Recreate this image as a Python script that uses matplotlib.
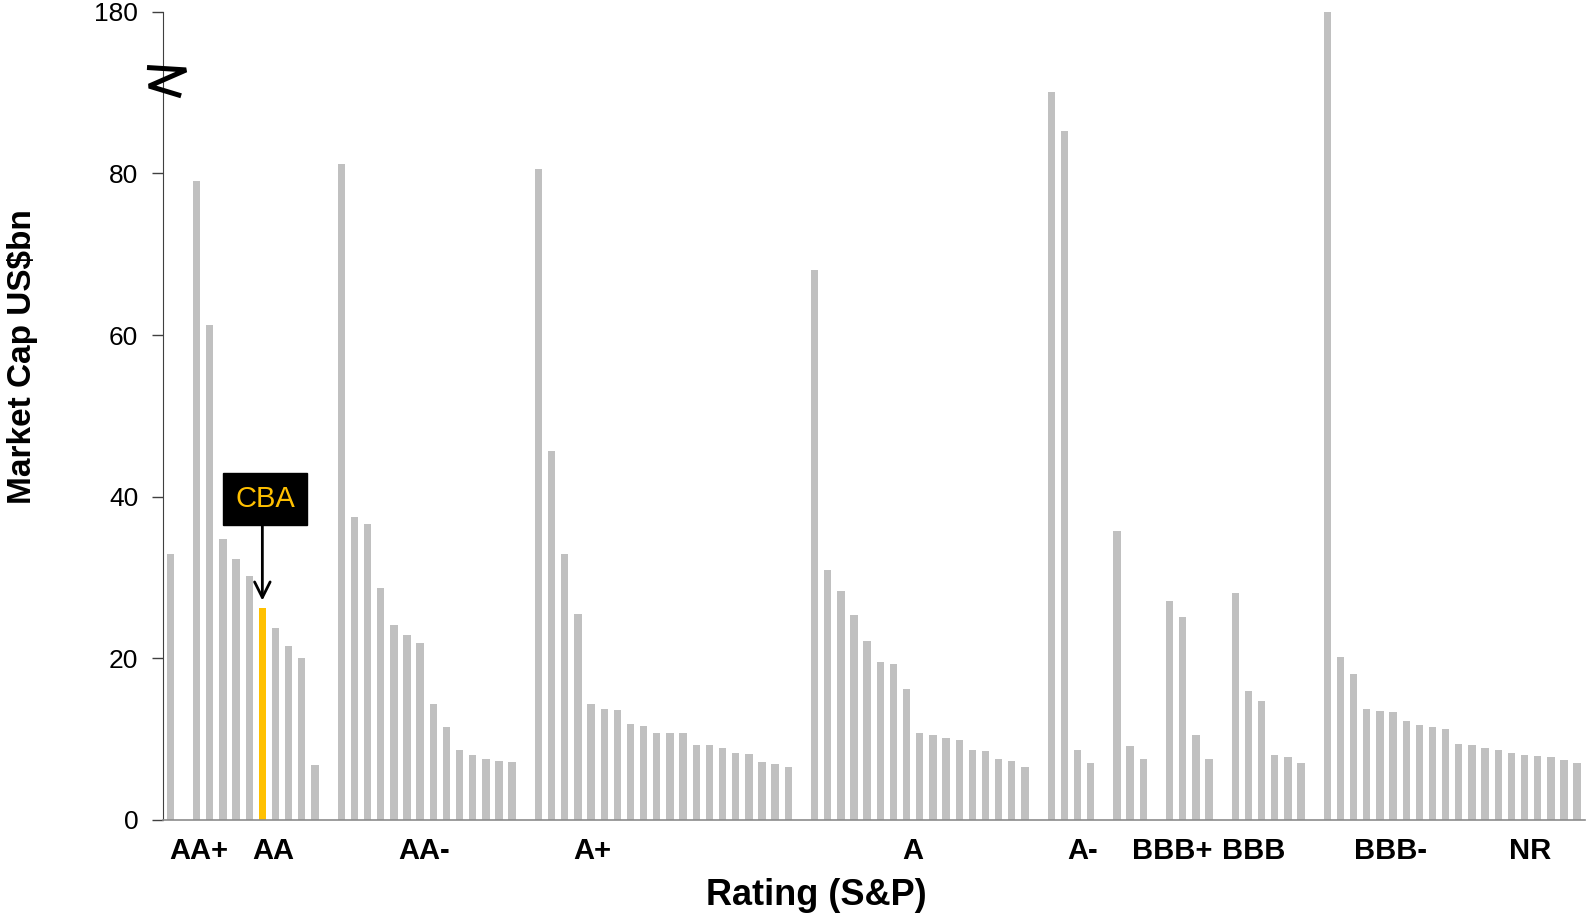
import numpy as np
import matplotlib
matplotlib.use("Agg")
import matplotlib.pyplot as plt

plt.rcParams["font.family"] = ["Liberation Sans", "DejaVu Sans"]

# Market cap (US$bn) per bank, one list per cluster of bars (left to right)
group_0 = [32.9]
group_1 = [79.0, 61.2, 34.8, 32.3, 30.2, 26.2, 23.7, 21.5, 20.0, 6.8]
group_2 = [81.2, 37.5, 36.6, 28.7, 24.1, 22.9, 21.9, 14.4, 11.5, 8.6, 8.0, 7.5,
           7.3, 7.2]
group_3 = [80.5, 45.7, 32.9, 25.5, 14.3, 13.7, 13.6, 11.9, 11.6, 10.8, 10.8,
           10.7, 9.3, 9.3, 8.9, 8.3, 8.2, 7.2, 6.9, 6.6]
group_4 = [68.1, 30.9, 28.3, 25.4, 22.2, 19.6, 19.3, 16.2, 10.8, 10.5, 10.1,
           9.9, 8.6, 8.5, 7.6, 7.3, 6.6]
group_5 = [90.1, 85.2, 8.7, 7.05]
group_6 = [35.8, 9.2, 7.6]
group_7 = [27.1, 25.1, 10.5, 7.5]
group_8 = [28.1, 15.9, 14.7, 8.0, 7.75, 7.05]
group_9 = [180.0, 20.2, 18.0, 13.7, 13.45, 13.3, 12.3, 11.75, 11.5, 11.2, 9.4,
           9.3, 8.9, 8.7, 8.3, 8.0, 7.9, 7.75, 7.45, 7.05]
groups = [group_0, group_1, group_2, group_3, group_4,
          group_5, group_6, group_7, group_8, group_9]

highlight_group, highlight_idx = 1, 5   # CBA

rating_labels = ["AA+", "AA", "AA-", "A+", "A", "A-", "BBB+", "BBB", "BBB-", "NR"]
rating_pos = [2.15, 7.85, 19.3, 32.1, 56.5, 69.4, 76.2, 82.4, 92.8, 103.4]

y_ticks = [0, 20, 40, 60, 80, 100]
y_tick_labels = ["0", "20", "40", "60", "80", "180"]

GREY = "#C0C0C0"
GOLD = "#FFC000"

# --- slot positions: one empty slot between clusters ---
xs, hs, cols = [], [], []
slot = 0
for gi, g in enumerate(groups):
    for bi, v in enumerate(g):
        xs.append(slot)
        hs.append(v)
        cols.append(GOLD if (gi, bi) == (highlight_group, highlight_idx) else GREY)
        slot += 1
    slot += 1
xs = np.array(xs)
cba_x = xs[sum(len(g) for g in groups[:highlight_group]) + highlight_idx]
cba_h = groups[highlight_group][highlight_idx]

fig = plt.figure(figsize=(15.89, 9.17), dpi=100)
ax = fig.add_axes([0.1028, 0.1058, 0.8947, 0.8814])

ax.bar(xs, hs, width=0.56, color=cols, zorder=2)

ax.set_xlim(-0.53, 107.6)
ax.set_ylim(0, 100)

ax.set_yticks(y_ticks)
ax.set_yticklabels(y_tick_labels, fontsize=19)
ax.tick_params(axis="y", direction="out", length=8, width=1,
               color="#404040", pad=10)
ax.set_xticks(rating_pos)
ax.set_xticklabels(rating_labels, fontsize=21, fontweight="bold")
ax.tick_params(axis="x", length=0, pad=12)

for s in ("top", "right"):
    ax.spines[s].set_visible(False)
ax.spines["left"].set_color("#404040")
ax.spines["bottom"].set_color("#8C8C8C")
ax.spines["bottom"].set_linewidth(1.2)

ax.set_ylabel("Market Cap US$bn", fontsize=24, fontweight="bold",
              ha="center", va="center")
ax.yaxis.set_label_coords(-0.0992, 0.573)
ax.set_xlabel("Rating (S&P)", fontsize=26, fontweight="bold",
              ha="center", va="center")
ax.xaxis.set_label_coords(0.459, -0.094)

# --- axis break mark ---
brk = ax.get_yaxis_transform()
ax.plot([-0.0115, 0.016, -0.010, 0.0125], [93.1, 92.8, 90.8, 89.6],
        color="black", lw=3.6, transform=brk, clip_on=False, zorder=5,
        solid_joinstyle="bevel", solid_capstyle="butt")

# --- CBA call-out ---
ax.annotate("", xy=(cba_x, cba_h + 0.6), xytext=(cba_x, 37.5),
            arrowprops=dict(arrowstyle="->", color="black", lw=2,
                            mutation_scale=28), zorder=4)
ax.text(cba_x + 0.2, 39.7, "CBA", color=GOLD, fontsize=21, ha="center",
        va="center", zorder=5,
        bbox=dict(boxstyle="square,pad=0.42", facecolor="black",
                  edgecolor="black"))

fig.savefig("out.png", dpi=100)
